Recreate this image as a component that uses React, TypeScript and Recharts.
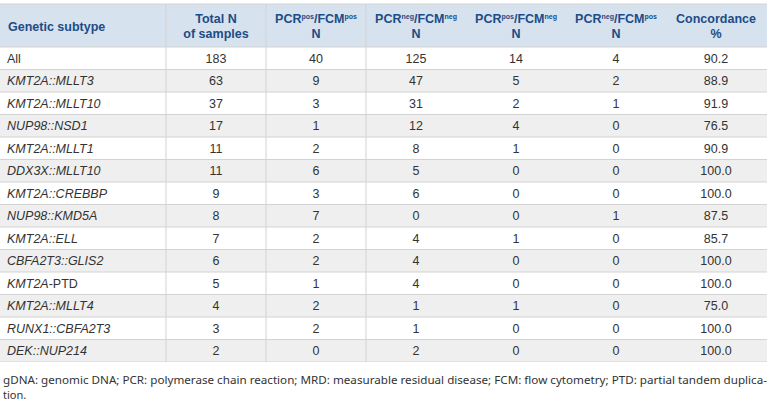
import { ScatterChart, Scatter, XAxis, YAxis, CartesianGrid } from "recharts";

const subtypes = [
  "All",
  "KMT2A::MLLT3",
  "KMT2A::MLLT10",
  "NUP98::NSD1",
  "KMT2A::MLLT1",
  "DDX3X::MLLT10",
  "KMT2A::CREBBP",
  "NUP98::KMD5A",
  "KMT2A::ELL",
  "CBFA2T3::GLIS2",
  "KMT2A-PTD",
  "KMT2A::MLLT4",
  "RUNX1::CBFA2T3",
  "DEK::NUP214",
];
const totalN = [183, 63, 37, 17, 11, 11, 9, 8, 7, 6, 5, 4, 3, 2];
const pcrPosFcmPos = [40, 9, 3, 1, 2, 6, 3, 7, 2, 2, 1, 2, 2, 0];
const pcrNegFcmNeg = [125, 47, 31, 12, 8, 5, 6, 0, 4, 4, 4, 1, 1, 2];
const pcrPosFcmNeg = [14, 5, 2, 4, 1, 0, 0, 0, 1, 0, 0, 1, 0, 0];
const pcrNegFcmPos = [4, 2, 1, 0, 0, 0, 0, 1, 0, 0, 0, 0, 0, 0];
const concordance = [90.2, 88.9, 91.9, 76.5, 90.9, 100, 100, 87.5, 85.7, 100, 100, 75, 100, 100];

const firstHeader = "Genetic subtype";
// {xxx} marks a superscript
const columnHeaders: [string, string][] = [
  ["Total N", "of samples"],
  ["PCR{pos}/FCM{pos}", "N"],
  ["PCR{neg}/FCM{neg}", "N"],
  ["PCR{pos}/FCM{neg}", "N"],
  ["PCR{neg}/FCM{pos}", "N"],
  ["Concordance", "%"],
];
const footnote = [
  "gDNA: genomic DNA; PCR: polymerase chain reaction; MRD: measurable residual disease; FCM: flow cytometry; PTD: partial tandem duplica-",
  "tion.",
];

const columns = [
  totalN.map(String),
  pcrPosFcmPos.map(String),
  pcrNegFcmNeg.map(String),
  pcrPosFcmNeg.map(String),
  pcrNegFcmPos.map(String),
  concordance.map((v) => v.toFixed(1)),
];

// row units: header is ~1.9 rows tall, first column ~1.66 columns wide
const HDR = 43 / 22.5;
const X_MIN = -1.66;
const X_MAX = 6.01;

const HEAD_BG = "#d6e2ee";
const HEAD_TEXT = "#1d4c86";
const BODY_TEXT = "#333333";
const ZEBRA = "#efefef";
const FONT = "'Liberation Sans', Arial, sans-serif";

const valuePoints = columns.flatMap((col, c) =>
  col.map((text, r) => ({ x: c + 0.5, y: r + 0.5, text }))
);
const subtypePoints = subtypes.map((text, r) => ({ x: X_MIN, y: r + 0.5, text }));
const headerPoints = columnHeaders.map((lines, c) => ({ x: c + 0.5, y: -HDR / 2, lines }));
const firstHeaderPoint = [{ x: X_MIN, y: -HDR / 2, text: firstHeader }];

const yTicks = [-HDR, ...subtypes.map((_, i) => i), subtypes.length];
const rowFills = [HEAD_BG, ...subtypes.map((_, i) => (i % 2 ? ZEBRA : "#ffffff"))];

const ValueCell = (props: any) => {
  const { cx, cy, payload } = props;
  return (
    <text x={cx} y={cy} dy="0.36em" textAnchor="middle" fontSize={12.5} fontFamily={FONT} fill={BODY_TEXT}>
      {payload.text}
    </text>
  );
};

const SubtypeCell = (props: any) => {
  const { cx, cy, payload } = props;
  const name: string = payload.text;
  let body;
  if (name === "All") body = name;
  else if (name.includes("-")) {
    const [gene, rest] = name.split("-");
    body = (
      <>
        <tspan fontStyle="italic">{gene}</tspan>
        <tspan>-{rest}</tspan>
      </>
    );
  } else body = <tspan fontStyle="italic">{name}</tspan>;
  return (
    <text x={cx + 7} y={cy} dy="0.36em" fontSize={12.5} fontFamily={FONT} fill={BODY_TEXT}>
      {body}
    </text>
  );
};

const FirstHeaderCell = (props: any) => {
  const { cx, cy, payload } = props;
  return (
    <text x={cx + 8} y={cy + 5.5} fontSize={12.5} fontWeight={700} fontFamily={FONT} fill={HEAD_TEXT}>
      {payload.text}
    </text>
  );
};

const HeaderCell = (props: any) => {
  const { cx, cy, payload } = props;
  const [top, bottom] = payload.lines as [string, string];
  const parts = top.split(/\{(\w+)\}/);
  return (
    <text textAnchor="middle" fontSize={12.5} fontWeight={700} fontFamily={FONT} fill={HEAD_TEXT}>
      <tspan x={cx} y={cy - 3}>
        {parts.map((p, i) =>
          i % 2 ? (
            <tspan key={i} dy={-4} fontSize={7}>
              {p}
            </tspan>
          ) : (
            <tspan key={i} dy={i ? 4 : 0}>
              {p}
            </tspan>
          )
        )}
      </tspan>
      <tspan x={cx} y={cy + 12}>
        {bottom}
      </tspan>
    </text>
  );
};

export default function App() {
  return (
    <div style={{ position: "absolute", left: 0, top: 0, width: 772, height: 405, background: "#fff" }}>
      <ScatterChart width={772} height={362} margin={{ top: 4, right: 5, bottom: 0, left: 0 }}>
        <XAxis type="number" dataKey="x" domain={[X_MIN, X_MAX]} ticks={[0, 1, 2]} interval={0} hide />
        <YAxis type="number" dataKey="y" domain={[-HDR, subtypes.length]} ticks={yTicks} interval={0} reversed hide />
        <CartesianGrid stroke="#d3d3d3" horizontalFill={rowFills} syncWithTicks />
        <Scatter data={firstHeaderPoint} shape={FirstHeaderCell} isAnimationActive={false} />
        <Scatter data={headerPoints} shape={HeaderCell} isAnimationActive={false} />
        <Scatter data={subtypePoints} shape={SubtypeCell} isAnimationActive={false} />
        <Scatter data={valuePoints} shape={ValueCell} isAnimationActive={false} />
      </ScatterChart>
      <svg width={772} height={43} style={{ display: "block" }}>
        <text x={3} y={22} fontSize={11} fontFamily="'Noto Sans', sans-serif" fill="#333" textLength={764} lengthAdjust="spacingAndGlyphs">
          {footnote[0]}
        </text>
        <text x={3} y={37} fontSize={11} fontFamily="'Noto Sans', sans-serif" fill="#333">
          {footnote[1]}
        </text>
      </svg>
    </div>
  );
}
